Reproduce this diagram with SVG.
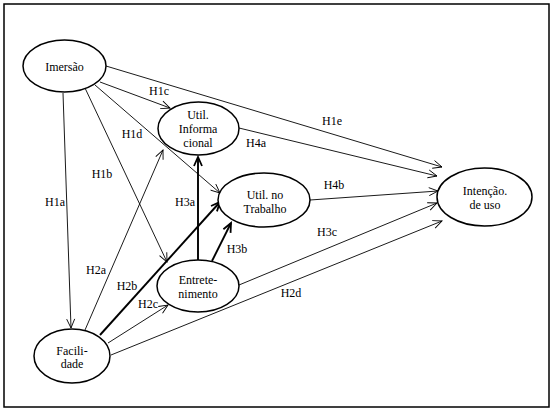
<svg xmlns="http://www.w3.org/2000/svg" width="557" height="414" viewBox="0 0 557 414">
<style>
.n{fill:#fff;stroke:#000;stroke-width:1.5}
.t{font-family:"Liberation Serif","Times New Roman",serif;font-size:12px;fill:#000;text-anchor:middle}
.e{fill:none;stroke:#000;stroke-width:0.9;marker-end:url(#a)}
.k{fill:none;stroke:#000;stroke-width:1.9;marker-end:url(#b)}
</style>
<defs>
<marker id="a" markerUnits="userSpaceOnUse" markerWidth="12" markerHeight="12" refX="10" refY="5" orient="auto" overflow="visible">
<path d="M1,1 L10,5 L1,9" fill="none" stroke="#000" stroke-width="0.9"/>
</marker>
<marker id="b" markerUnits="userSpaceOnUse" markerWidth="12" markerHeight="12" refX="10" refY="5" orient="auto" overflow="visible">
<path d="M1,1 L10,5 L1,9" fill="none" stroke="#000" stroke-width="1.8"/>
</marker>
</defs>
<rect x="4" y="4" width="545" height="403" fill="#fff" stroke="#000" stroke-width="1.5"/>
<g id="connectors">
<line class="e" x1="63" y1="93" x2="71" y2="328"/>
<line class="e" x1="85" y1="88" x2="167" y2="262"/>
<line class="e" x1="100" y1="82" x2="170" y2="108"/>
<line class="e" x1="95" y1="85" x2="220" y2="193"/>
<line class="e" x1="106" y1="66" x2="442" y2="167"/>
<line class="e" x1="239" y1="128" x2="437" y2="176"/>
<line class="e" x1="310" y1="200" x2="438" y2="191"/>
<line class="e" x1="239" y1="285" x2="437" y2="203"/>
<line class="e" x1="111" y1="355" x2="442" y2="221"/>
<line class="e" x1="85" y1="330" x2="163" y2="150"/>
<line class="k" x1="100" y1="335" x2="220" y2="202"/>
<line class="e" x1="108" y1="343" x2="168" y2="305"/>
<line class="k" x1="198" y1="260" x2="198" y2="157"/>
<line class="k" x1="212" y1="261" x2="231" y2="223"/>
<text class="t" x="55" y="206">H1a</text>
<text class="t" x="102" y="178">H1b</text>
<text class="t" x="159" y="95">H1c</text>
<text class="t" x="132" y="138">H1d</text>
<text class="t" x="332" y="125">H1e</text>
<text class="t" x="256" y="147">H4a</text>
<text class="t" x="334" y="189">H4b</text>
<text class="t" x="327" y="236">H3c</text>
<text class="t" x="291" y="297">H2d</text>
<text class="t" x="96" y="274">H2a</text>
<text class="t" x="127" y="290">H2b</text>
<text class="t" x="148" y="308">H2c</text>
<text class="t" x="185" y="206">H3a</text>
<text class="t" x="237" y="253">H3b</text>
</g>
<g id="imersao">
<ellipse class="n" cx="64.5" cy="66" rx="41.5" ry="26"/>
<text class="t" x="64.5" y="71">Imersão</text>
</g>
<g id="util-informacional">
<ellipse class="n" cx="198.5" cy="128.5" rx="40.5" ry="26.5"/>
<text class="t" x="198" y="119">Util.</text>
<text class="t" x="198" y="133">Informa</text>
<text class="t" x="198" y="147">cional</text>
</g>
<g id="util-trabalho">
<ellipse class="n" cx="264" cy="200" rx="46" ry="27"/>
<text class="t" x="265" y="199">Util. no</text>
<text class="t" x="265" y="213">Trabalho</text>
</g>
<g id="intencao">
<ellipse class="n" cx="484.5" cy="197" rx="47.5" ry="29"/>
<text class="t" x="485" y="195">Intenção.</text>
<text class="t" x="485" y="209">de uso</text>
</g>
<g id="entretenimento">
<ellipse class="n" cx="198" cy="286" rx="41" ry="26"/>
<text class="t" x="198" y="284">Entrete-</text>
<text class="t" x="198" y="298">nimento</text>
</g>
<g id="facilidade">
<ellipse class="n" cx="72" cy="356" rx="38" ry="27"/>
<text class="t" x="72" y="355">Facili-</text>
<text class="t" x="72" y="368">dade</text>
</g>
</svg>
